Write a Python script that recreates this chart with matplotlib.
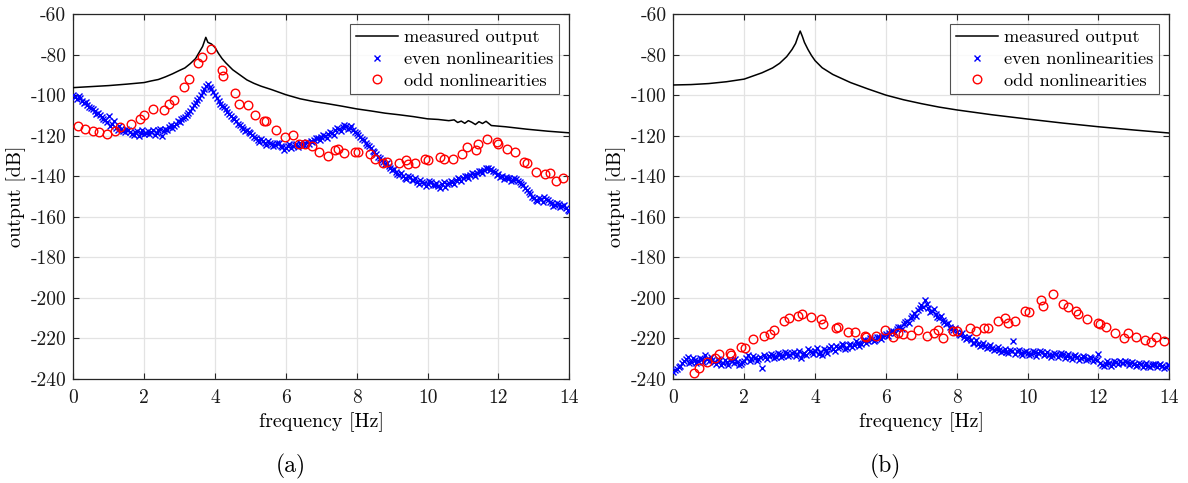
import numpy as np
import matplotlib
matplotlib.use("Agg")
import matplotlib.pyplot as plt

plt.rcParams['font.family'] = ['cmr10', 'DejaVu Serif']
plt.rcParams['axes.unicode_minus'] = False
plt.rcParams['axes.formatter.use_mathtext'] = False

# ---- panel (a) ----
freq_meas_a = [0, 0.5, 1.0, 1.5, 2.0, 2.2, 2.4, 2.6, 2.8, 3.0, 3.15, 3.3, 3.45, 3.55, 3.65, 3.74,
               3.8, 3.9, 4.0, 4.1, 4.2, 4.3, 4.5, 4.7, 4.9, 5.1, 5.3, 5.6, 6.0, 6.4, 6.8, 7.2,
               7.6, 8.0, 8.4, 8.8, 9.2, 9.6, 10.0, 10.3, 10.6, 10.75, 10.85, 10.95, 11.05, 11.15,
               11.25, 11.35, 11.45, 11.55, 11.65, 11.8, 12.0, 12.2, 12.5, 12.8, 13.1, 13.4, 13.7, 14.0]
meas_a = [-96.3, -95.8, -95.3, -94.6, -93.8, -93.0, -92.3, -91.0, -89.5, -87.8, -86.6, -84.5,
          -82.0, -79.0, -76.0, -71.5, -74.0, -74.8, -76.5, -79.5, -82.0, -84.0, -87.5, -90.0,
          -92.5, -94.2, -95.6, -97.3, -99.8, -101.8, -103.2, -104.3, -105.5, -106.8, -107.8,
          -108.9, -109.7, -110.6, -111.7, -112.0, -112.6, -112.2, -113.5, -112.8, -113.9, -112.6,
          -113.4, -114.5, -113.1, -114.0, -112.9, -115.0, -115.3, -115.6, -116.2, -116.8, -117.3,
          -117.8, -118.2, -118.6]

# even nonlinearity lines sit on two interleaved grids (0.0, 0.1, ... and 0.05, 0.15, ...)
freq_even1 = np.round(np.arange(0, 14.01, 0.1), 2)
freq_even2 = np.round(np.arange(0.05, 14.0, 0.1), 2)

even_a1 = [-100, -102, -101.5, -104, -105, -106.5, -108, -109, -111, -112.5,
           -110.5, -114, -116, -115, -117.5, -116.5, -118, -119.5, -117.5, -118.5,
           -119, -117.5, -118, -119.5, -117, -120, -116.5, -115.5, -116, -114,
           -113.5, -111.5, -110, -108, -105, -102.5, -100, -97, -94.5, -97,
           -100, -103, -105.5, -107, -109.5, -111.5, -113, -114.5, -116.5, -117,
           -118.5, -120.5, -122, -121.5, -123.5, -122.5, -124, -124.5, -123.5, -125.5,
           -126, -124, -125, -124, -123.5, -124.5, -123, -122.5, -122, -121,
           -120.5, -120, -119, -118.5, -117, -116.5, -115.5, -115, -116, -117,
           -118.5, -120.5, -122, -124.5, -126, -128, -130.5, -132, -134, -135,
           -137, -138, -139.5, -140, -141.5, -140.5, -142, -143, -142, -143.5,
           -144, -143, -144.5, -145, -144, -145.5, -143.5, -143, -142, -141.5,
           -141, -140, -139.5, -139, -138.5, -137.5, -137, -136, -136.5, -138,
           -139, -140, -140.5, -141, -142, -141.5, -143, -144.5, -147, -149,
           -150.5, -152, -151, -150, -151.5, -153, -154, -153.5, -154.5, -155.5, -157]
even_a2 = [-101, -100.5, -103, -103.5, -106, -107, -109.5, -110, -112, -113.5,
           -115, -113, -117, -116.5, -118, -117, -119, -118, -120, -117,
           -118.5, -119, -117, -118.5, -116.5, -117.5, -117, -114.5, -115, -113,
           -112, -111, -109, -106.5, -104, -101.5, -98.5, -95.5, -96, -98.5,
           -101.5, -104.5, -106, -108.5, -110.5, -112, -114, -115.5, -117.5, -118,
           -119.5, -121, -123, -122.5, -124.5, -123.5, -125, -123.5, -125, -127,
           -125, -126, -124.5, -125.5, -124.5, -123.5, -124, -123, -121, -122,
           -119.5, -121, -118, -119.5, -116, -117.5, -114.5, -116.5, -115, -118,
           -119.5, -121.5, -123.5, -125, -127.5, -129, -131, -133, -133.5, -136,
           -136.5, -139, -138.5, -141, -140, -142, -141, -144, -143, -145,
           -142.5, -144.5, -143.5, -146, -143, -144, -142.5, -144, -141, -142.5,
           -140, -141, -138.5, -140, -137.5, -138.5, -136, -137, -137.5, -139.5,
           -140.5, -141.5, -141, -142.5, -141, -142.5, -144, -146, -148, -150,
           -151.5, -150.5, -152.5, -151, -152.5, -154.5, -153, -155, -154, -156.5]

freq_odd_a = [0.14, 0.33, 0.56, 0.73, 0.94, 1.18, 1.32, 1.63, 1.88, 2.0, 2.24, 2.57, 2.71, 2.84,
              3.13, 3.27, 3.52, 3.64, 3.89, 4.19, 4.23, 4.57, 4.67, 4.93, 5.13, 5.38, 5.45, 5.72,
              5.97, 6.19, 6.36, 6.54, 6.75, 6.94, 7.18, 7.39, 7.48, 7.64, 7.95, 8.04, 8.37, 8.51,
              8.75, 8.85, 9.18, 9.4, 9.44, 9.65, 9.93, 10.02, 10.35, 10.45, 10.71, 10.96, 11.12,
              11.36, 11.41, 11.67, 11.95, 12.0, 12.23, 12.47, 12.72, 12.8, 13.06, 13.31, 13.45,
              13.62, 13.83]
odd_a = [-115.2, -116.8, -117.8, -118.4, -119.3, -117.6, -115.6, -114.0, -112.0, -109.8, -106.9,
         -107.2, -104.4, -102.6, -96.1, -91.9, -84.4, -81.4, -77.4, -87.7, -90.5, -98.9, -104.4,
         -105.0, -109.6, -112.7, -112.6, -117.0, -120.5, -119.9, -124.1, -124.0, -125.1, -128.0,
         -130.2, -127.2, -126.7, -128.4, -128.0, -128.0, -128.9, -131.3, -133.4, -133.0, -133.7,
         -131.8, -133.8, -133.4, -131.4, -131.8, -130.4, -131.4, -131.3, -128.9, -125.6, -126.9,
         -124.0, -121.7, -123.1, -124.2, -126.4, -128.0, -133.0, -133.3, -137.9, -139.0, -138.4,
         -142.5, -140.8]

# ---- panel (b) ----
freq_meas_b = [0, 0.5, 1.0, 1.5, 2.0, 2.5, 2.8, 3.0, 3.2, 3.35, 3.45, 3.52, 3.58, 3.64, 3.7, 3.8,
               3.9, 4.0, 4.2, 4.5, 5.0, 5.5, 6.0, 6.5, 7.0, 7.5, 8.0, 9.0, 10.0, 11.0, 12.0, 13.0, 14.0]
meas_b = [-95.0, -94.8, -94.3, -93.4, -92.1, -89.0, -86.6, -84.3, -81.0, -77.5, -74.5, -71.0,
          -68.4, -71.0, -74.0, -77.5, -80.5, -83.0, -86.5, -89.8, -93.8, -97.0, -100.0, -102.3,
          -104.2, -105.9, -107.3, -109.7, -111.8, -113.8, -115.6, -117.2, -118.7]

even_b1 = [-236.5, -235, -233.5, -231, -229, -231.5, -230.5, -231, -230, -228,
           -231, -230.5, -232.5, -231, -232, -231.5, -230.5, -232, -231.5, -232.5,
           -231, -228, -230, -229.5, -230, -234.5, -229, -228.5, -228, -229,
           -227.5, -228.5, -227, -228, -226.5, -227.5, -229.5, -227, -225, -226.5,
           -226, -227.5, -228, -225.5, -224.5, -225, -223.5, -224, -223, -224.5,
           -222.5, -223, -222, -222.5, -221, -221.5, -220.5, -221, -219.5, -219,
           -218, -217.5, -216.5, -215.5, -214.5, -213, -211.5, -210, -207.5, -206,
           -203.5, -201, -205, -206.5, -208, -210, -211, -213, -214.5, -216,
           -217, -218.5, -219.5, -220, -221, -222, -222.5, -223, -223.5, -224,
           -224.5, -225, -225.5, -226, -226.5, -225.5, -221.5, -226, -227, -226.5,
           -227, -227.5, -226.5, -227, -226.5, -227.5, -228, -228, -227.5, -228,
           -227.5, -228.5, -229, -228.5, -229, -229.5, -229, -230, -229.5, -230,
           -227.5, -233, -232.5, -232, -232.5, -231.5, -231, -232, -231.5, -232,
           -232.5, -233, -232.5, -233, -233.5, -233, -232.5, -233, -233.5, -234, -233]
even_b2 = [-235.5, -234, -232, -230, -232, -229.5, -232, -229.5, -231.5, -230,
           -229, -231.5, -230, -233, -230.5, -233, -231, -230, -233, -231.5,
           -229.5, -231, -228.5, -231, -229, -228, -230, -227.5, -229.5, -227,
           -229, -226.5, -228.5, -227, -228.5, -226, -227.5, -228, -226, -227.5,
           -224.5, -226.5, -225, -227, -223.5, -226, -224.5, -222.5, -225, -223,
           -224, -221.5, -223.5, -221, -222, -220, -221.5, -219.5, -220.5, -218.5,
           -219, -216.5, -217.5, -214.5, -215.5, -212, -212.5, -209, -209, -205,
           -204.5, -203, -207, -205.5, -209.5, -209, -212, -212.5, -215.5, -215,
           -218, -217.5, -220.5, -219.5, -222, -221, -223.5, -222, -224.5, -223,
           -225.5, -224, -226.5, -225, -227, -226, -227.5, -225.5, -228, -226,
           -228, -226, -228.5, -226, -228, -226.5, -229, -227, -229, -227,
           -229.5, -227.5, -230, -228, -230.5, -228.5, -230.5, -229, -231, -230.5,
           -232, -233.5, -231, -233.5, -231, -232.5, -232, -231, -233, -231.5,
           -233.5, -232, -234, -232, -234, -232.5, -234, -232.5, -234.5, -233]

freq_odd_b = [0.58, 0.73, 0.94, 1.18, 1.29, 1.6, 1.63, 1.91, 2.02, 2.24, 2.56, 2.73, 2.84, 3.13,
              3.27, 3.53, 3.64, 3.89, 4.17, 4.23, 4.58, 4.65, 4.94, 5.13, 5.41, 5.45, 5.72, 5.97,
              6.19, 6.33, 6.49, 6.7, 6.91, 7.17, 7.36, 7.48, 7.62, 7.89, 8.02, 8.36, 8.55, 8.77,
              8.88, 9.17, 9.36, 9.44, 9.63, 9.93, 10.03, 10.38, 10.43, 10.71, 10.99, 11.13, 11.36,
              11.41, 11.68, 11.98, 12.03, 12.22, 12.47, 12.73, 12.82, 13.07, 13.32, 13.47, 13.63, 13.84]
odd_b = [-236.9, -234.7, -231.4, -229.8, -227.7, -227.3, -228.0, -224.0, -224.8, -220.3, -218.8,
         -217.8, -215.8, -211.2, -209.7, -208.9, -207.8, -209.6, -210.6, -213.0, -215.0, -214.2,
         -216.7, -216.7, -218.8, -219.5, -218.8, -215.6, -219.2, -217.1, -218.0, -218.3, -215.8,
         -218.6, -217.5, -215.8, -219.9, -216.1, -216.1, -214.7, -216.1, -214.7, -215.0, -211.2,
         -209.7, -212.5, -211.2, -206.4, -207.0, -201.0, -204.0, -198.2, -203.0, -204.6, -206.4,
         -207.8, -210.5, -212.5, -213.0, -214.2, -217.5, -219.9, -217.1, -219.1, -220.7, -221.6,
         -219.4, -221.3]

freq_even = np.concatenate([freq_even1, freq_even2])
panels = [
    (freq_meas_a, meas_a, even_a1 + even_a2, freq_odd_a, odd_a, '(a)', 0.2445),
    (freq_meas_b, meas_b, even_b1 + even_b2, freq_odd_b, odd_b, '(b)', 0.7455),
]

fig = plt.figure(figsize=(11.88, 4.83), dpi=100)
edge = '#262626'

for i, (fm, m, ev, fo, od, tag, tagx) in enumerate(panels):
    ax = fig.add_axes([0.0617 + i * 0.5051, 0.2153, 0.4175, 0.7557])
    ax.plot(fm, m, color='k', lw=1.1, label='measured output', zorder=3)
    ax.plot(freq_even, ev, 'x', color='#0000ff', ms=4.0, mew=1.0, label='even nonlinearities', zorder=4)
    ax.plot(fo, od, 'o', mfc='none', mec='#ff0000', ms=6.2, mew=1.0, label='odd nonlinearities', zorder=5)
    ax.set_xlim(0, 14)
    ax.set_ylim(-240, -60)
    ax.set_xticks(range(0, 15, 2))
    ax.set_yticks(range(-240, -59, 20))
    ax.grid(True, color='#e3e3e3', lw=0.9)
    ax.set_axisbelow(True)
    for s in ax.spines.values():
        s.set_color(edge)
        s.set_linewidth(0.9)
    ax.tick_params(direction='in', top=True, right=True, length=4, width=0.8,
                   colors=edge, labelcolor='#1a1a1a', labelsize=14)
    ax.tick_params(axis='x', pad=7)
    ax.tick_params(axis='y', pad=5)
    ax.set_xlabel('frequency [Hz]', fontsize=14.4, labelpad=4)
    ax.set_ylabel('output [dB]', fontsize=14.4, labelpad=3)
    leg = ax.legend(loc='upper right', fontsize=13.2, frameon=True, fancybox=False,
                    edgecolor=edge, handlelength=2.3, handletextpad=0.35, borderpad=0.3,
                    labelspacing=0.32, borderaxespad=0.55)
    leg.get_frame().set_linewidth(0.8)
    fig.text(tagx, 0.034, tag, ha='center', va='center', fontsize=17)

fig.savefig('out.png', dpi=100)
